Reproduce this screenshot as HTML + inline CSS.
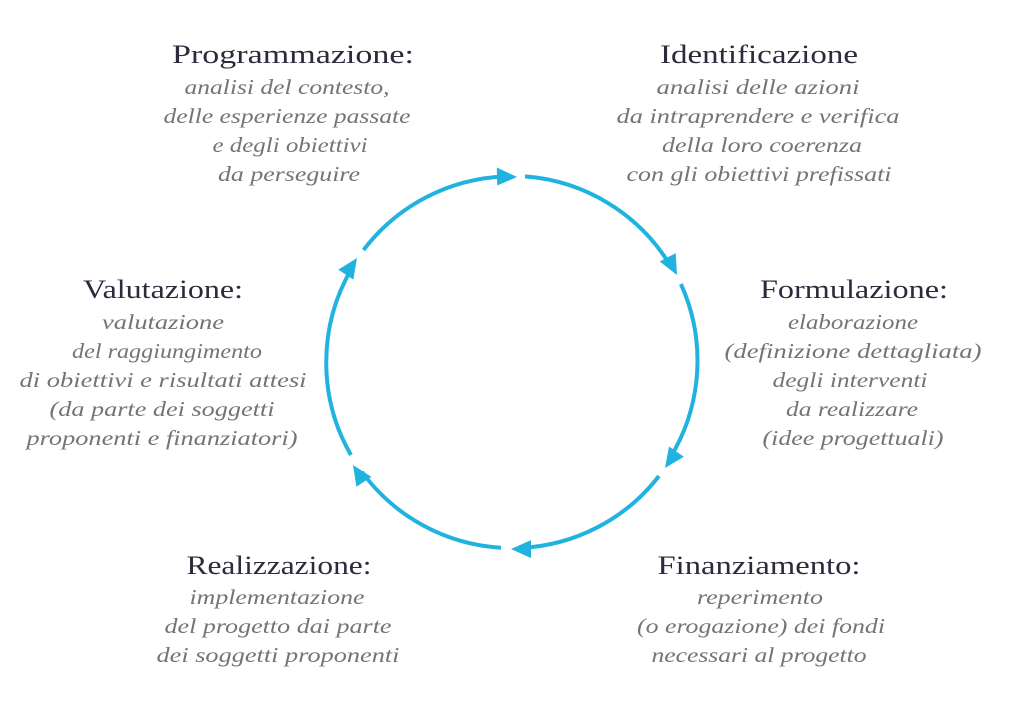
<!DOCTYPE html>
<html><head><meta charset="utf-8"><style>
html,body{margin:0;padding:0;background:#fff;}
svg{display:block}
.t{font-family:"Liberation Serif",serif;font-size:26px;fill:#2b2b3d;}
.s{font-family:"Liberation Serif",serif;font-style:italic;font-size:21px;fill:#747474;}
</style></head><body>
<svg width="1024" height="703" viewBox="0 0 1024 703" xmlns="http://www.w3.org/2000/svg">
<g fill="none" stroke="#20b3df" stroke-width="4">
<path d="M525,176.4 A186,186 0 0 1 670,265"/>
<path d="M680.9,284 A186,186 0 0 1 670,458"/>
<path d="M659,476 A186,186 0 0 1 520,548"/>
<path d="M501,547.7 A186,186 0 0 1 362,472"/>
<path d="M350.9,455 A186,186 0 0 1 352,268"/>
<path d="M363.5,250.1 A186,186 0 0 1 505,176.5"/>
</g>
<g fill="#20b3df">
<polygon points="517,177 497.2,185.5 496.8,167.5"/>
<polygon points="677,275 659.7,261.5 675.7,253.1"/>
<polygon points="665,468 669,446.5 683.8,456.7"/>
<polygon points="511,549 531,540.1 531,558.1"/>
<polygon points="353,465 371.4,476.9 356.4,486.7"/>
<polygon points="357,258 353.3,279.6 338.3,269.6"/>
</g>
<g text-anchor="middle">
<text class="t" x="293" y="63" textLength="242" lengthAdjust="spacingAndGlyphs">Programmazione:</text>
<text class="s" x="287" y="94" textLength="205" lengthAdjust="spacingAndGlyphs">analisi del contesto,</text>
<text class="s" x="287" y="123" textLength="247" lengthAdjust="spacingAndGlyphs">delle esperienze passate</text>
<text class="s" x="290" y="152" textLength="155" lengthAdjust="spacingAndGlyphs">e degli obiettivi</text>
<text class="s" x="289" y="181" textLength="142" lengthAdjust="spacingAndGlyphs">da perseguire</text>

<text class="t" x="759" y="63" textLength="198" lengthAdjust="spacingAndGlyphs">Identificazione</text>
<text class="s" x="758" y="94" textLength="203" lengthAdjust="spacingAndGlyphs">analisi delle azioni</text>
<text class="s" x="758" y="123" textLength="283" lengthAdjust="spacingAndGlyphs">da intraprendere e verifica</text>
<text class="s" x="762" y="152" textLength="200" lengthAdjust="spacingAndGlyphs">della loro coerenza</text>
<text class="s" x="759" y="181" textLength="265" lengthAdjust="spacingAndGlyphs">con gli obiettivi prefissati</text>

<text class="t" x="854" y="298" textLength="188" lengthAdjust="spacingAndGlyphs">Formulazione:</text>
<text class="s" x="853" y="329" textLength="130" lengthAdjust="spacingAndGlyphs">elaborazione</text>
<text class="s" x="853" y="358" textLength="257" lengthAdjust="spacingAndGlyphs">(definizione dettagliata)</text>
<text class="s" x="850" y="387" textLength="155" lengthAdjust="spacingAndGlyphs">degli interventi</text>
<text class="s" x="852" y="416" textLength="132" lengthAdjust="spacingAndGlyphs">da realizzare</text>
<text class="s" x="853" y="445" textLength="181" lengthAdjust="spacingAndGlyphs">(idee progettuali)</text>

<text class="t" x="163" y="298" textLength="160" lengthAdjust="spacingAndGlyphs">Valutazione:</text>
<text class="s" x="163" y="329" textLength="122" lengthAdjust="spacingAndGlyphs">valutazione</text>
<text class="s" x="167" y="358" textLength="190" lengthAdjust="spacingAndGlyphs">del raggiungimento</text>
<text class="s" x="163" y="387" textLength="287" lengthAdjust="spacingAndGlyphs">di obiettivi e risultati attesi</text>
<text class="s" x="162" y="416" textLength="225" lengthAdjust="spacingAndGlyphs">(da parte dei soggetti</text>
<text class="s" x="162" y="445" textLength="271" lengthAdjust="spacingAndGlyphs">proponenti e finanziatori)</text>

<text class="t" x="279" y="574" textLength="185" lengthAdjust="spacingAndGlyphs">Realizzazione:</text>
<text class="s" x="277" y="604" textLength="175" lengthAdjust="spacingAndGlyphs">implementazione</text>
<text class="s" x="278" y="633" textLength="227" lengthAdjust="spacingAndGlyphs">del progetto dai parte</text>
<text class="s" x="278" y="662" textLength="243" lengthAdjust="spacingAndGlyphs">dei soggetti proponenti</text>

<text class="t" x="759" y="574" textLength="203" lengthAdjust="spacingAndGlyphs">Finanziamento:</text>
<text class="s" x="760" y="604" textLength="126" lengthAdjust="spacingAndGlyphs">reperimento</text>
<text class="s" x="761" y="633" textLength="248" lengthAdjust="spacingAndGlyphs">(o erogazione) dei fondi</text>
<text class="s" x="759" y="662" textLength="215" lengthAdjust="spacingAndGlyphs">necessari al progetto</text>
</g>
</svg>
</body></html>
